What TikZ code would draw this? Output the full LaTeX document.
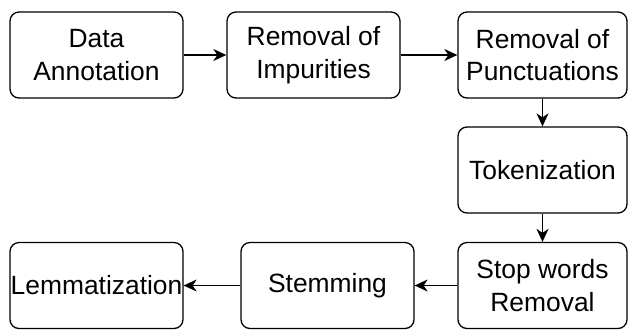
\documentclass[tikz,border=0pt]{standalone}
\usepackage{fontspec}
\setmainfont{Liberation Sans}
\usetikzlibrary{arrows.meta}
\tikzset{
  stepnode/.style={rectangle,rounded corners=4.5pt,fill=white,draw=black,line width=0.65pt,
    minimum width=86.5pt,minimum height=43pt,inner sep=0pt,align=center,
    font=\fontsize{13.2}{16.2}\selectfont},
  arr/.style={-{Stealth[length=6.5pt,width=6pt,inset=2pt]},line width=0.65pt,draw=black}
}
\begin{document}
\begin{tikzpicture}[x=0.5pt,y=-0.5pt]

  \useasboundingbox (0,0) rectangle (628,329);

  % Top row
  \node[stepnode] (annot) at (96.5,55) {Data\\Annotation};
  \node[stepnode] (impur) at (313.5,55) {Removal of\\Impurities};
  \node[stepnode,minimum width=84.5pt] (punct) at (542.5,55) {Removal of\\Punctuations};

  % Right column
  \node[stepnode,minimum width=84.5pt] (token) at (542.5,170) {Tokenization};

  % Bottom row
  \node[stepnode,minimum width=84.5pt] (stopw) at (542.5,285.5) {Stop words\\Removal};
  \node[stepnode] (stemm) at (327.5,285.5) {Stemming};
  \node[stepnode] (lemma) at (96.5,285.5) {Lemmatization};

  % Connectors
  \draw[arr] (annot) -- (impur);
  \draw[arr] (impur) -- (punct);
  \draw[arr] (punct) -- (token);
  \draw[arr] (token) -- (stopw);
  \draw[arr] (stopw) -- (stemm);
  \draw[arr] (stemm) -- (lemma);

\end{tikzpicture}
\end{document}
